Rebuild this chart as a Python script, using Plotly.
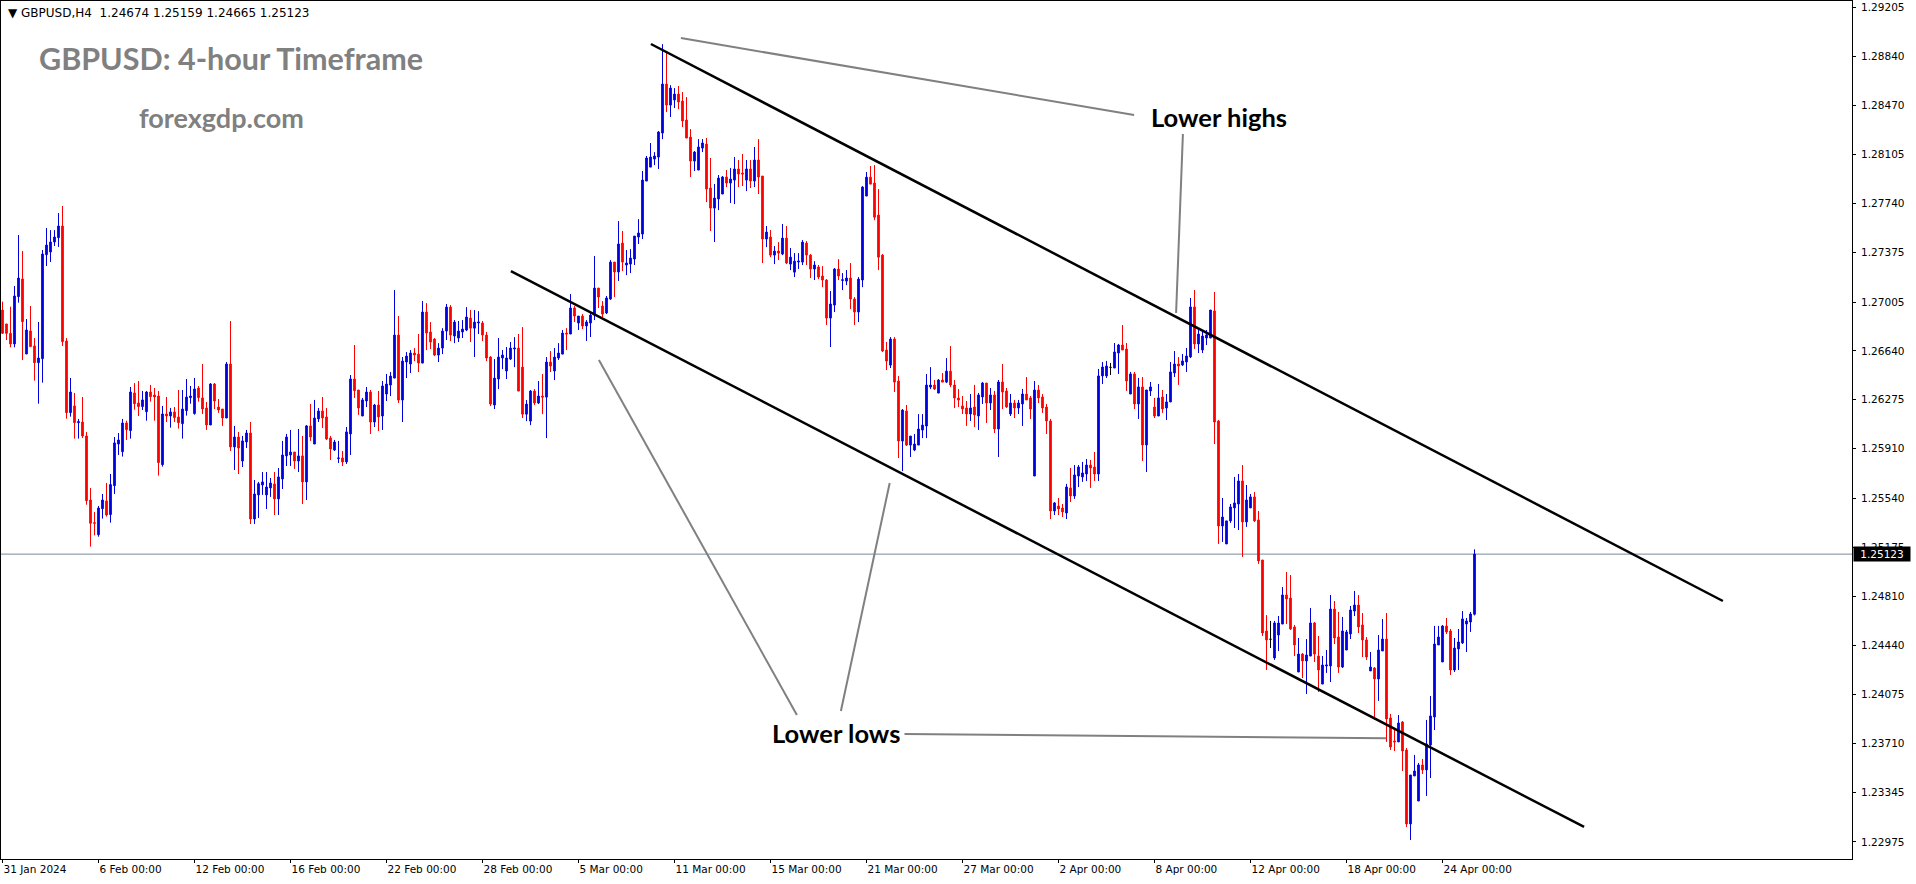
import plotly.graph_objects as go

# ---------------- data (GBPUSD H4) ----------------
open_ = [
1.26945, 1.26841, 1.26771, 1.26692, 1.27045, 1.27177, 1.26617, 1.26789, 1.26677, 1.26552,
1.26582, 1.27358, 1.27378, 1.27453, 1.27485, 1.27572, 1.26714, 1.26179, 1.26229, 1.26104,
1.26109, 1.26005, 1.25527, 1.25358, 1.25268, 1.25462, 1.25520, 1.25418, 1.25634, 1.25945,
1.25888, 1.26102, 1.26045, 1.26326, 1.26251, 1.26224, 1.26186, 1.26333, 1.26311, 1.26303,
1.25791, 1.26169, 1.26154, 1.26184, 1.26147, 1.26097, 1.26194, 1.26291, 1.26172, 1.26363,
1.26289, 1.26214, 1.26087, 1.26393, 1.26221, 1.26206, 1.26139, 1.26542, 1.25923, 1.25997,
1.25818, 1.25960, 1.26027, 1.25385, 1.25565, 1.25639, 1.25565, 1.25617, 1.25647, 1.25535,
1.25684, 1.25856, 1.25863, 1.25885, 1.25818, 1.25856, 1.25662, 1.26080, 1.25945, 1.26132,
1.26191, 1.26147, 1.25990, 1.25900, 1.25836, 1.25841, 1.25811, 1.26020, 1.26430, 1.26348,
1.26154, 1.26266, 1.26333, 1.26109, 1.26236, 1.26154, 1.26318, 1.26385, 1.26437, 1.26758,
1.26273, 1.26557, 1.26542, 1.26624, 1.26616, 1.26549, 1.26930, 1.26781, 1.26728, 1.26609,
1.26661, 1.26788, 1.26967, 1.26751, 1.26736, 1.26781, 1.26796, 1.26885, 1.26810, 1.26848,
1.26848, 1.26758, 1.26594, 1.26236, 1.26430, 1.26587, 1.26490, 1.26579, 1.26654, 1.26661,
1.26519, 1.26168, 1.26116, 1.26340, 1.26251, 1.26303, 1.26295, 1.26557, 1.26490, 1.26587,
1.26616, 1.26773, 1.26766, 1.26960, 1.26848, 1.26900, 1.26826, 1.26848, 1.26908, 1.27109,
1.26975, 1.26923, 1.27027, 1.27303, 1.27229, 1.27445, 1.27281, 1.27288, 1.27326, 1.27490,
1.27512, 1.27908, 1.28012, 1.28072, 1.28087, 1.28266, 1.28632, 1.28475, 1.28513, 1.28557,
1.28505, 1.28363, 1.28236, 1.28057, 1.27990, 1.28154, 1.28184, 1.27856, 1.27706, 1.27774,
1.27811, 1.27938, 1.27893, 1.27915, 1.27998, 1.27968, 1.27915, 1.27998, 1.27908, 1.28065,
1.27945, 1.27475, 1.27490, 1.27355, 1.27385, 1.27363, 1.27482, 1.27288, 1.27228, 1.27303,
1.27303, 1.27445, 1.27355, 1.27251, 1.27266, 1.27199, 1.27169, 1.26885, 1.26982, 1.27251,
1.27166, 1.27161, 1.27184, 1.27027, 1.26930, 1.27169, 1.27796, 1.27937, 1.27893, 1.27654,
1.27355, 1.26646, 1.26534, 1.26728, 1.26415, 1.25967, 1.26191, 1.25937, 1.25900, 1.25937,
1.26049, 1.26079, 1.26370, 1.26385, 1.26325, 1.26422, 1.26407, 1.26489, 1.26385, 1.26288,
1.26229, 1.26214, 1.26169, 1.26221, 1.26154, 1.26296, 1.26400, 1.26251, 1.26311, 1.26057,
1.26408, 1.26341, 1.26169, 1.26251, 1.26214, 1.26244, 1.26318, 1.26289, 1.25706, 1.26348,
1.26296, 1.26221, 1.26117, 1.25445, 1.25482, 1.25467, 1.25430, 1.25617, 1.25557, 1.25706,
1.25699, 1.25721, 1.25788, 1.25773, 1.25721, 1.26453, 1.26453, 1.26517, 1.26512, 1.26624,
1.26684, 1.26654, 1.26318, 1.26468, 1.26244, 1.26371, 1.25938, 1.26341, 1.26221, 1.26154,
1.26296, 1.26214, 1.26259, 1.26475, 1.26542, 1.26535, 1.26557, 1.26595, 1.26968, 1.26692,
1.26647, 1.26736, 1.26736, 1.26938, 1.26117, 1.25333, 1.25199, 1.25371, 1.25468, 1.25497,
1.25669, 1.25363, 1.25468, 1.25550, 1.25378, 1.25079, 1.24549, 1.24487, 1.24348, 1.24519,
1.24601, 1.24818, 1.24795, 1.24579, 1.24243, 1.24377, 1.24325, 1.24362, 1.24609, 1.24362,
1.24153, 1.24288, 1.24288, 1.24713, 1.24504, 1.24280, 1.24407, 1.24527, 1.24698, 1.24743,
1.24594, 1.24482, 1.24251, 1.24273, 1.24191, 1.24400, 1.24489, 1.23900, 1.23728, 1.23721,
1.23870, 1.23661, 1.23109, 1.23467, 1.23280, 1.23549, 1.23512, 1.23698, 1.23907, 1.24445,
1.24318, 1.24586, 1.24549, 1.24258, 1.24415, 1.24460, 1.24601, 1.24616, 1.24674]

high = [
1.27008, 1.26841, 1.26970, 1.27124, 1.27505, 1.27386, 1.26878, 1.26975, 1.26736, 1.26856,
1.27393, 1.27557, 1.27542, 1.27542, 1.27669, 1.27722, 1.26736, 1.26438, 1.26326, 1.26132,
1.26296, 1.26035, 1.25617, 1.25438, 1.25482, 1.25572, 1.25654, 1.25721, 1.25997, 1.26027,
1.26132, 1.26119, 1.26371, 1.26400, 1.26415, 1.26341, 1.26341, 1.26386, 1.26363, 1.26341,
1.26229, 1.26296, 1.26214, 1.26221, 1.26348, 1.26348, 1.26430, 1.26378, 1.26438, 1.26378,
1.26542, 1.26259, 1.26400, 1.26400, 1.26281, 1.26206, 1.26557, 1.26863, 1.26080, 1.26035,
1.26005, 1.26050, 1.26109, 1.25676, 1.25662, 1.25736, 1.25736, 1.25691, 1.25736, 1.25766,
1.25968, 1.26020, 1.26050, 1.25885, 1.26057, 1.26005, 1.26087, 1.26244, 1.26274, 1.26214,
1.26296, 1.26214, 1.26005, 1.25975, 1.25968, 1.25893, 1.26072, 1.26460, 1.26684, 1.26348,
1.26289, 1.26371, 1.26348, 1.26244, 1.26341, 1.26415, 1.26468, 1.26482, 1.27094, 1.26900,
1.26594, 1.26631, 1.26646, 1.26661, 1.26766, 1.27012, 1.26997, 1.26855, 1.26736, 1.26698,
1.26810, 1.26990, 1.26982, 1.26870, 1.26863, 1.26870, 1.26967, 1.26945, 1.26945, 1.26937,
1.26863, 1.26781, 1.26601, 1.26579, 1.26736, 1.26646, 1.26669, 1.26706, 1.26743, 1.26766,
1.26818, 1.26273, 1.26348, 1.26355, 1.26415, 1.26467, 1.26594, 1.26639, 1.26661, 1.26698,
1.26796, 1.26810, 1.27064, 1.26975, 1.26900, 1.26915, 1.26870, 1.26923, 1.27348, 1.27109,
1.27012, 1.27050, 1.27318, 1.27303, 1.27609, 1.27535, 1.27393, 1.27400, 1.27497, 1.27624,
1.27983, 1.28095, 1.28192, 1.28124, 1.28281, 1.28930, 1.28871, 1.28624, 1.28602, 1.28617,
1.28572, 1.28535, 1.28296, 1.28132, 1.28221, 1.28221, 1.28229, 1.28080, 1.27886, 1.27953,
1.27945, 1.27990, 1.28005, 1.28087, 1.28065, 1.28110, 1.28065, 1.28065, 1.28162, 1.28221,
1.27945, 1.27572, 1.27542, 1.27422, 1.27452, 1.27587, 1.27572, 1.27408, 1.27370, 1.27370,
1.27467, 1.27460, 1.27363, 1.27310, 1.27281, 1.27273, 1.27176, 1.27087, 1.27258, 1.27325,
1.27221, 1.27243, 1.27296, 1.27042, 1.27191, 1.27870, 1.27975, 1.28020, 1.28027, 1.27848,
1.27363, 1.26706, 1.26743, 1.26743, 1.26452, 1.26206, 1.26236, 1.26004, 1.26019, 1.26168,
1.26168, 1.26467, 1.26519, 1.26422, 1.26430, 1.26475, 1.26586, 1.26676, 1.26422, 1.26355,
1.26303, 1.26266, 1.26318, 1.26386, 1.26326, 1.26408, 1.26400, 1.26363, 1.26341, 1.26423,
1.26542, 1.26363, 1.26318, 1.26274, 1.26274, 1.26356, 1.26445, 1.26303, 1.26415, 1.26386,
1.26318, 1.26244, 1.26132, 1.25512, 1.25542, 1.25497, 1.25647, 1.25766, 1.25788, 1.25788,
1.25811, 1.25833, 1.25826, 1.25885, 1.26505, 1.26557, 1.26565, 1.26550, 1.26699, 1.26692,
1.26833, 1.26699, 1.26483, 1.26483, 1.26438, 1.26445, 1.26348, 1.26408, 1.26289, 1.26393,
1.26348, 1.26318, 1.26557, 1.26639, 1.26594, 1.26617, 1.26662, 1.27035, 1.27095, 1.26796,
1.26796, 1.26796, 1.26945, 1.27080, 1.26124, 1.25542, 1.25371, 1.25497, 1.25699, 1.25721,
1.25788, 1.25639, 1.25572, 1.25587, 1.25445, 1.25079, 1.24668, 1.24624, 1.24624, 1.24661,
1.24877, 1.24989, 1.24967, 1.24594, 1.24497, 1.24385, 1.24489, 1.24721, 1.24616, 1.24512,
1.24362, 1.24407, 1.24818, 1.24773, 1.24691, 1.24654, 1.24557, 1.24736, 1.24848, 1.24818,
1.24683, 1.24504, 1.24392, 1.24280, 1.24519, 1.24639, 1.24683, 1.23930, 1.23810, 1.23922,
1.23877, 1.23676, 1.23474, 1.23624, 1.23564, 1.23594, 1.23885, 1.24064, 1.24587, 1.24587,
1.24594, 1.24646, 1.24564, 1.24497, 1.24564, 1.24698, 1.24646, 1.24691, 1.25159]

low = [
1.26766, 1.26721, 1.26667, 1.26667, 1.27000, 1.26572, 1.26617, 1.26672, 1.26418, 1.26246,
1.26403, 1.27274, 1.27304, 1.27423, 1.27416, 1.26677, 1.26134, 1.26149, 1.25985, 1.25985,
1.25990, 1.25492, 1.25179, 1.25263, 1.25253, 1.25388, 1.25403, 1.25358, 1.25572, 1.25863,
1.25851, 1.25975, 1.25985, 1.26201, 1.26154, 1.26199, 1.26119, 1.26261, 1.26119, 1.25709,
1.25776, 1.26109, 1.26067, 1.26109, 1.26060, 1.25985, 1.26157, 1.26246, 1.26164, 1.26261,
1.26169, 1.26050, 1.26087, 1.26206, 1.26177, 1.26080, 1.26139, 1.25893, 1.25751, 1.25721,
1.25773, 1.25915, 1.25348, 1.25348, 1.25393, 1.25565, 1.25460, 1.25550, 1.25415, 1.25415,
1.25609, 1.25781, 1.25781, 1.25759, 1.25736, 1.25497, 1.25527, 1.25968, 1.25945, 1.26109,
1.26065, 1.25975, 1.25826, 1.25893, 1.25803, 1.25781, 1.25796, 1.25863, 1.26289, 1.26162,
1.26154, 1.26221, 1.26020, 1.26072, 1.26042, 1.26050, 1.26266, 1.26303, 1.26437, 1.26251,
1.26109, 1.26437, 1.26475, 1.26564, 1.26482, 1.26549, 1.26646, 1.26654, 1.26601, 1.26557,
1.26616, 1.26721, 1.26713, 1.26698, 1.26706, 1.26736, 1.26788, 1.26706, 1.26594, 1.26766,
1.26713, 1.26564, 1.26228, 1.26206, 1.26355, 1.26504, 1.26430, 1.26572, 1.26519, 1.26340,
1.26139, 1.26116, 1.26086, 1.26236, 1.26243, 1.26168, 1.25989, 1.26482, 1.26422, 1.26572,
1.26616, 1.26646, 1.26766, 1.26856, 1.26796, 1.26803, 1.26714, 1.26744, 1.26870, 1.26960,
1.26893, 1.26915, 1.27020, 1.27042, 1.27162, 1.27236, 1.27206, 1.27221, 1.27281, 1.27438,
1.27475, 1.27908, 1.28012, 1.28027, 1.27998, 1.28221, 1.28423, 1.28386, 1.28453, 1.28445,
1.28311, 1.28229, 1.27938, 1.27983, 1.27990, 1.28124, 1.27751, 1.27535, 1.27453, 1.27691,
1.27811, 1.27863, 1.27744, 1.27736, 1.27863, 1.27871, 1.27833, 1.27856, 1.27863, 1.27811,
1.27296, 1.27415, 1.27340, 1.27288, 1.27318, 1.27355, 1.27288, 1.27243, 1.27191, 1.27251,
1.27281, 1.27281, 1.27184, 1.27169, 1.27176, 1.27116, 1.26833, 1.26669, 1.26930, 1.27169,
1.27094, 1.27131, 1.26952, 1.26833, 1.26855, 1.27116, 1.27796, 1.27885, 1.27616, 1.27243,
1.26631, 1.26497, 1.26512, 1.26333, 1.25840, 1.25743, 1.25930, 1.25848, 1.25892, 1.25937,
1.25989, 1.25989, 1.26355, 1.26348, 1.26325, 1.26407, 1.26400, 1.26370, 1.26213, 1.26221,
1.26169, 1.26080, 1.26117, 1.26072, 1.26050, 1.26244, 1.26102, 1.26199, 1.26027, 1.25848,
1.26206, 1.26214, 1.26154, 1.26139, 1.26169, 1.26080, 1.26274, 1.26132, 1.25706, 1.26251,
1.26177, 1.26020, 1.25385, 1.25415, 1.25415, 1.25400, 1.25385, 1.25512, 1.25535, 1.25624,
1.25662, 1.25669, 1.25617, 1.25669, 1.25669, 1.26393, 1.26438, 1.26460, 1.26512, 1.26468,
1.26647, 1.26341, 1.26318, 1.26206, 1.26132, 1.25818, 1.25736, 1.26303, 1.26139, 1.26154,
1.26177, 1.26124, 1.26259, 1.26445, 1.26386, 1.26527, 1.26483, 1.26587, 1.26654, 1.26624,
1.26624, 1.26684, 1.26736, 1.25945, 1.25199, 1.25214, 1.25199, 1.25356, 1.25318, 1.25303,
1.25102, 1.25326, 1.25468, 1.25363, 1.25050, 1.24512, 1.24258, 1.24422, 1.24333, 1.24400,
1.24601, 1.24601, 1.24557, 1.24362, 1.24243, 1.24198, 1.24079, 1.24362, 1.24318, 1.24094,
1.24153, 1.24236, 1.24168, 1.24452, 1.24236, 1.24273, 1.24407, 1.24489, 1.24661, 1.24534,
1.24355, 1.24333, 1.24251, 1.23885, 1.24027, 1.24400, 1.23721, 1.23661, 1.23653, 1.23721,
1.23504, 1.23086, 1.22989, 1.23467, 1.23280, 1.23482, 1.23318, 1.23452, 1.23810, 1.24445,
1.24318, 1.24527, 1.24221, 1.24243, 1.24258, 1.24452, 1.24392, 1.24542, 1.24665]

close = [
1.26771, 1.26771, 1.26692, 1.27050, 1.27184, 1.26858, 1.26796, 1.26672, 1.26552, 1.26587,
1.27363, 1.27430, 1.27453, 1.27490, 1.27572, 1.26709, 1.26179, 1.26333, 1.26104, 1.26112,
1.26005, 1.25522, 1.25353, 1.25353, 1.25467, 1.25527, 1.25415, 1.25642, 1.25953, 1.25975,
1.26102, 1.26052, 1.26333, 1.26246, 1.26224, 1.26274, 1.26333, 1.26298, 1.26296, 1.25806,
1.26169, 1.26154, 1.26184, 1.26142, 1.26104, 1.26206, 1.26296, 1.26303, 1.26356, 1.26291,
1.26206, 1.26087, 1.26393, 1.26266, 1.26199, 1.26139, 1.26542, 1.25923, 1.25997, 1.25915,
1.25968, 1.26027, 1.25385, 1.25572, 1.25649, 1.25662, 1.25624, 1.25654, 1.25535, 1.25699,
1.25863, 1.25997, 1.25885, 1.25818, 1.25856, 1.25662, 1.26080, 1.25997, 1.26139, 1.26191,
1.26139, 1.25982, 1.25908, 1.25960, 1.25841, 1.25811, 1.26035, 1.26430, 1.26343, 1.26214,
1.26274, 1.26333, 1.26109, 1.26236, 1.26147, 1.26378, 1.26393, 1.26452, 1.26758, 1.26273,
1.26564, 1.26601, 1.26624, 1.26609, 1.26549, 1.26930, 1.26773, 1.26706, 1.26609, 1.26661,
1.26788, 1.26967, 1.26758, 1.26855, 1.26788, 1.26803, 1.26893, 1.26810, 1.26855, 1.26855,
1.26758, 1.26587, 1.26243, 1.26437, 1.26594, 1.26609, 1.26587, 1.26661, 1.26661, 1.26340,
1.26168, 1.26243, 1.26340, 1.26251, 1.26303, 1.26295, 1.26557, 1.26527, 1.26594, 1.26624,
1.26773, 1.26766, 1.26960, 1.26900, 1.26900, 1.26826, 1.26856, 1.26908, 1.27109, 1.27042,
1.26915, 1.27035, 1.27303, 1.27229, 1.27438, 1.27303, 1.27296, 1.27333, 1.27497, 1.27520,
1.27915, 1.28080, 1.28087, 1.28095, 1.28274, 1.28632, 1.28475, 1.28602, 1.28557, 1.28498,
1.28356, 1.28229, 1.28057, 1.28124, 1.28162, 1.28192, 1.27848, 1.27706, 1.27781, 1.27930,
1.27938, 1.27893, 1.27923, 1.27998, 1.27960, 1.27960, 1.27998, 1.27908, 1.28065, 1.27938,
1.27475, 1.27527, 1.27355, 1.27385, 1.27370, 1.27482, 1.27296, 1.27340, 1.27310, 1.27310,
1.27452, 1.27355, 1.27251, 1.27281, 1.27191, 1.27169, 1.26885, 1.26990, 1.27251, 1.27199,
1.27171, 1.27184, 1.27027, 1.26930, 1.27176, 1.27863, 1.27937, 1.27885, 1.27638, 1.27340,
1.26639, 1.26564, 1.26728, 1.26407, 1.25967, 1.26198, 1.25937, 1.26004, 1.25945, 1.26057,
1.26086, 1.26385, 1.26385, 1.26355, 1.26422, 1.26407, 1.26489, 1.26385, 1.26288, 1.26273,
1.26206, 1.26169, 1.26214, 1.26162, 1.26311, 1.26400, 1.26251, 1.26311, 1.26057, 1.26408,
1.26333, 1.26221, 1.26251, 1.26214, 1.26251, 1.26318, 1.26274, 1.26206, 1.26348, 1.26289,
1.26214, 1.26117, 1.25445, 1.25505, 1.25460, 1.25438, 1.25624, 1.25557, 1.25714, 1.25773,
1.25729, 1.25788, 1.25766, 1.25721, 1.26453, 1.26520, 1.26527, 1.26517, 1.26632, 1.26684,
1.26647, 1.26415, 1.26468, 1.26244, 1.26371, 1.25938, 1.26348, 1.26371, 1.26154, 1.26289,
1.26207, 1.26259, 1.26483, 1.26542, 1.26527, 1.26565, 1.26602, 1.26968, 1.26692, 1.26766,
1.26751, 1.26759, 1.26945, 1.26109, 1.25333, 1.25400, 1.25371, 1.25475, 1.25505, 1.25669,
1.25363, 1.25527, 1.25550, 1.25371, 1.25072, 1.24534, 1.24482, 1.24487, 1.24609, 1.24609,
1.24818, 1.24788, 1.24564, 1.24445, 1.24377, 1.24325, 1.24370, 1.24609, 1.24377, 1.24258,
1.24295, 1.24295, 1.24713, 1.24497, 1.24280, 1.24549, 1.24542, 1.24706, 1.24743, 1.24579,
1.24482, 1.24355, 1.24280, 1.24191, 1.24407, 1.24489, 1.23892, 1.23683, 1.23721, 1.23862,
1.23653, 1.23109, 1.23474, 1.23504, 1.23549, 1.23512, 1.23706, 1.23915, 1.24452, 1.24504,
1.24586, 1.24542, 1.24258, 1.24422, 1.24467, 1.24639, 1.24624, 1.24676, 1.25123]

date_labels = ["31 Jan 2024", "6 Feb 00:00", "12 Feb 00:00", "16 Feb 00:00", "22 Feb 00:00",
               "28 Feb 00:00", "5 Mar 00:00", "11 Mar 00:00", "15 Mar 00:00", "21 Mar 00:00",
               "27 Mar 00:00", "2 Apr 00:00", "8 Apr 00:00", "12 Apr 00:00", "18 Apr 00:00",
               "24 Apr 00:00"]
bars_per_label = 24
price_ticks = [1.29205, 1.28840, 1.28470, 1.28105, 1.27740, 1.27375, 1.27005, 1.26640, 1.26275,
               1.25910, 1.25540, 1.25175, 1.24810, 1.24440, 1.24075, 1.23710, 1.23345, 1.22975]
last_price = 1.25123
header_text = "GBPUSD,H4\u00a0 1.24674 1.25159 1.24665 1.25123"

# drawn objects (bar index, price)
upper_channel_x = [162.1, 430.1]
upper_channel_y = [1.28931, 1.24773]
lower_channel_x = [127.1, 395.4]
lower_channel_y = [1.27236, 1.23086]
pointer_x = [[169.6, 282.9], [295.1, 293.4], [198.6, 149.1], [209.6, 221.8], [225.5, 345.9]]
pointer_y = [[1.28975, 1.28401], [1.28259, 1.26923], [1.23922, 1.26572], [1.23952, 1.25654], [1.23780, 1.23748]]
label_highs = ("Lower highs", 304.1, 1.28386)
label_lows = ("Lower lows", 208.4, 1.23788)

# ---------------- figure ----------------
assert len(open_) == len(high) == len(low) == len(close)
N = len(close)
xs = list(range(N))
BULL = "#0000DD"
BEAR = "#FF0000"
TICKFONT = dict(family="DejaVu Sans", size=10.5, color="black")

main_idx = [i for i in xs if open_[i] != close[i]]
doji_idx = [i for i in xs if open_[i] == close[i]]


def pick(arr, idx):
    return [arr[i] for i in idx]


fig = go.Figure()
fig.add_trace(go.Candlestick(
    x=pick(xs, main_idx), open=pick(open_, main_idx), high=pick(high, main_idx),
    low=pick(low, main_idx), close=pick(close, main_idx),
    increasing=dict(line=dict(color=BULL, width=1), fillcolor=BULL),
    decreasing=dict(line=dict(color=BEAR, width=1), fillcolor=BEAR),
    whiskerwidth=0, hoverinfo="skip"))
fig.add_trace(go.Candlestick(
    x=pick(xs, doji_idx), open=pick(open_, doji_idx), high=pick(high, doji_idx),
    low=pick(low, doji_idx), close=pick(close, doji_idx),
    increasing=dict(line=dict(color="black", width=1), fillcolor="black"),
    decreasing=dict(line=dict(color="black", width=1), fillcolor="black"),
    whiskerwidth=0, hoverinfo="skip"))

shapes = [
    dict(type="line", xref="paper", yref="y", x0=0, x1=1, y0=last_price, y1=last_price,
         line=dict(color="#778899", width=1), layer="below"),
    dict(type="line", xref="x", yref="y", x0=upper_channel_x[0], x1=upper_channel_x[1],
         y0=upper_channel_y[0], y1=upper_channel_y[1], line=dict(color="black", width=2.5)),
    dict(type="line", xref="x", yref="y", x0=lower_channel_x[0], x1=lower_channel_x[1],
         y0=lower_channel_y[0], y1=lower_channel_y[1], line=dict(color="black", width=2.5)),
]
for px_, py_ in zip(pointer_x, pointer_y):
    shapes.append(dict(type="line", xref="x", yref="y", x0=px_[0], x1=px_[1], y0=py_[0], y1=py_[1],
                       line=dict(color="#808080", width=2)))

annotations = [
    dict(xref="paper", yref="paper", x=0.0025, y=0.9860, xanchor="left", yanchor="middle",
         text="\u25bc " + header_text, showarrow=False, font=dict(family="DejaVu Sans", size=12, color="black")),
    dict(xref="paper", yref="paper", x=0.1243, y=0.9341, xanchor="center", yanchor="middle",
         text="<b>GBPUSD: 4-hour Timeframe</b>", showarrow=False,
         font=dict(family="Lato", size=30.5, color="#808080")),
    dict(xref="paper", yref="paper", x=0.1191, y=0.8642, xanchor="center", yanchor="middle",
         text="<b>forexgdp.com</b>", showarrow=False, font=dict(family="Lato", size=27, color="#808080")),
    dict(xref="x", yref="y", x=label_highs[1], y=label_highs[2], xanchor="center", yanchor="middle",
         text="<b>" + label_highs[0] + "</b>", showarrow=False, font=dict(family="Lato", size=25.5, color="black")),
    dict(xref="x", yref="y", x=label_lows[1], y=label_lows[2], xanchor="center", yanchor="middle",
         text="<b>" + label_lows[0] + "</b>", showarrow=False, font=dict(family="Lato", size=25.5, color="black")),
    dict(xref="paper", yref="y", x=1, y=last_price, xanchor="left", yanchor="middle", xshift=1,
         text=f"{last_price:.5f}", showarrow=False, bgcolor="black", borderpad=1, width=54, align="center",
         font=dict(family="DejaVu Sans", size=10.5, color="white")),
]

fig.update_layout(
    template="none",
    width=1916, height=884,
    margin=dict(l=1, r=64, t=1, b=25, pad=0),
    paper_bgcolor="white", plot_bgcolor="white",
    showlegend=False, hovermode=False, dragmode=False, boxgap=0.4,
    shapes=shapes, annotations=annotations,
    xaxis=dict(range=[-0.375, 462.375], rangeslider=dict(visible=False), showgrid=False, zeroline=False,
               showline=True, linecolor="black", linewidth=1, mirror=True, automargin=False,
               tickmode="array", tickvals=[i * bars_per_label for i in range(len(date_labels))],
               ticktext=date_labels, ticks="outside", ticklen=3, tickcolor="black", tickwidth=1,
               ticklabelposition="outside right", tickfont=TICKFONT, fixedrange=True),
    yaxis=dict(side="right", range=[1.22847, 1.29252], showgrid=False, zeroline=False,
               showline=True, linecolor="black", linewidth=1, mirror=True, automargin=False,
               tickmode="array", tickvals=price_ticks, ticktext=[f"{p:.5f}" for p in price_ticks],
               ticks="outside", ticklen=3, tickcolor="black", tickwidth=1, ticklabelstandoff=3,
               tickfont=TICKFONT, fixedrange=True),
)

fig.write_html("out.html", config={"displayModeBar": False, "staticPlot": True},
               post_script="document.body.style.margin='0';document.body.style.overflow='hidden';")
